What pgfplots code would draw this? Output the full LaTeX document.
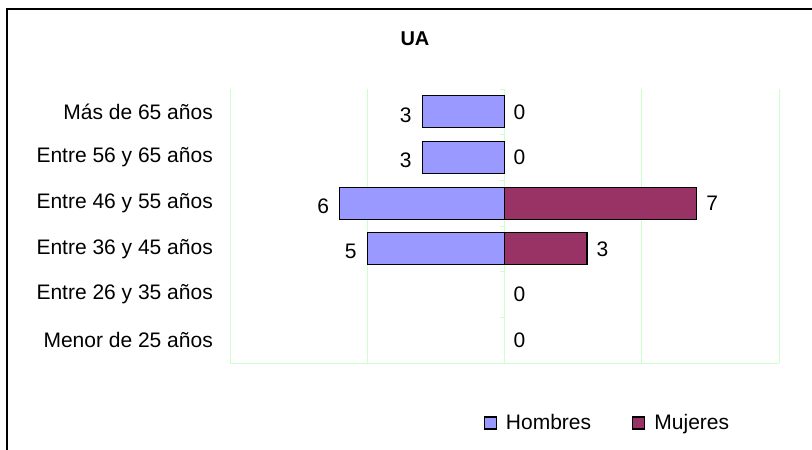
\documentclass[border=0pt]{standalone}
\usepackage{fontspec}
\setmainfont{Liberation Sans}
\usepackage{pgfplots}
\pgfplotsset{compat=1.18}
\definecolor{hcol}{HTML}{9999FF}
\definecolor{mcol}{HTML}{993366}
\definecolor{gridgreen}{HTML}{CCFFCC}
\newcommand{\lblfont}{\fontsize{21}{25}\selectfont}
\begin{document}
\begin{tikzpicture}[x=1pt,y=1pt]
\useasboundingbox (0,0) rectangle (812,450);
\draw[line width=1.4pt] (7,-10) -- (7,441) -- (830,441);
\node[font=\bfseries\fontsize{20}{24}\selectfont] at (415,411) {UA};
\begin{axis}[
  at={(230pt,87pt)}, anchor=south west,
  width=549pt, height=274pt, scale only axis,
  xmin=-10, xmax=10, ymin=0.5, ymax=6.5,
  xtick={-10,-5,0,5,10}, xticklabels={},
  xmajorgrids, grid style={draw=gridgreen, line width=0.8pt},
  major x tick style={draw=none},
  ytick={1,2,3,4,5,6},
  yticklabels={Menor de 25 años,Entre 26 y 35 años,Entre 36 y 45 años,Entre 46 y 55 años,Entre 56 y 65 años,Más de 65 años},
  major y tick style={draw=none},
  yticklabel style={font=\lblfont, inner sep=0pt, anchor=east, xshift=-17pt},
  axis line style={draw=none},
  legend style={at={(rel axis cs:0.6865,-0.219)}, anchor=center, draw=none,
    font=\lblfont, legend columns=2,
    /tikz/every odd column/.style={column sep=0pt},
    /tikz/every even column/.style={column sep=40pt},
    nodes={inner sep=1pt}},
  legend cell align=left,
  clip=false,
]
\draw[gridgreen, line width=0.8pt] (rel axis cs:0,0) -- (rel axis cs:1,0);
\pgfplotsinvokeforeach{1.5,2.5,3.5,4.5,5.5,6.5}{
  \draw[gridgreen, line width=0.8pt] (axis cs:0,#1) -- ++(-5pt,0pt);
}
\addplot[xbar, bar width=32pt, bar shift=0pt, fill=hcol, draw=black, line width=1.3pt,
  point meta=explicit symbolic, nodes near coords,
  nodes near coords style={font=\lblfont, anchor=east, inner sep=0pt, xshift=-10pt, yshift=-3pt},
  area legend,
  legend image code/.code={\draw[fill=hcol,draw=black,line width=1.3pt] (0pt,-6pt) rectangle (12pt,6pt); \path (20pt,0pt);}]
  coordinates {(-6,4) [6] (-5,3) [5] (-3,5) [3] (-3,6) [3]};
\addlegendentry{Hombres}
\addplot[xbar, bar width=32pt, bar shift=0pt, fill=mcol, draw=black, line width=1.3pt,
  point meta=explicit symbolic, nodes near coords,
  nodes near coords style={font=\lblfont, anchor=west, inner sep=0pt, xshift=9pt},
  area legend,
  legend image code/.code={\draw[fill=mcol,draw=black,line width=1.3pt] (0pt,-6pt) rectangle (12pt,6pt); \path (20pt,0pt);}]
  coordinates {(7,4) [7] (3,3) [3]};
\addlegendentry{Mujeres}
\addplot[draw=none, mark=none, forget plot,
  point meta=explicit symbolic, nodes near coords,
  nodes near coords style={font=\lblfont, anchor=west, inner sep=0pt, xshift=9pt}]
  coordinates {(0,6) [0] (0,5) [0] (0,2) [0] (0,1) [0]};
\end{axis}
\end{tikzpicture}
\end{document}
